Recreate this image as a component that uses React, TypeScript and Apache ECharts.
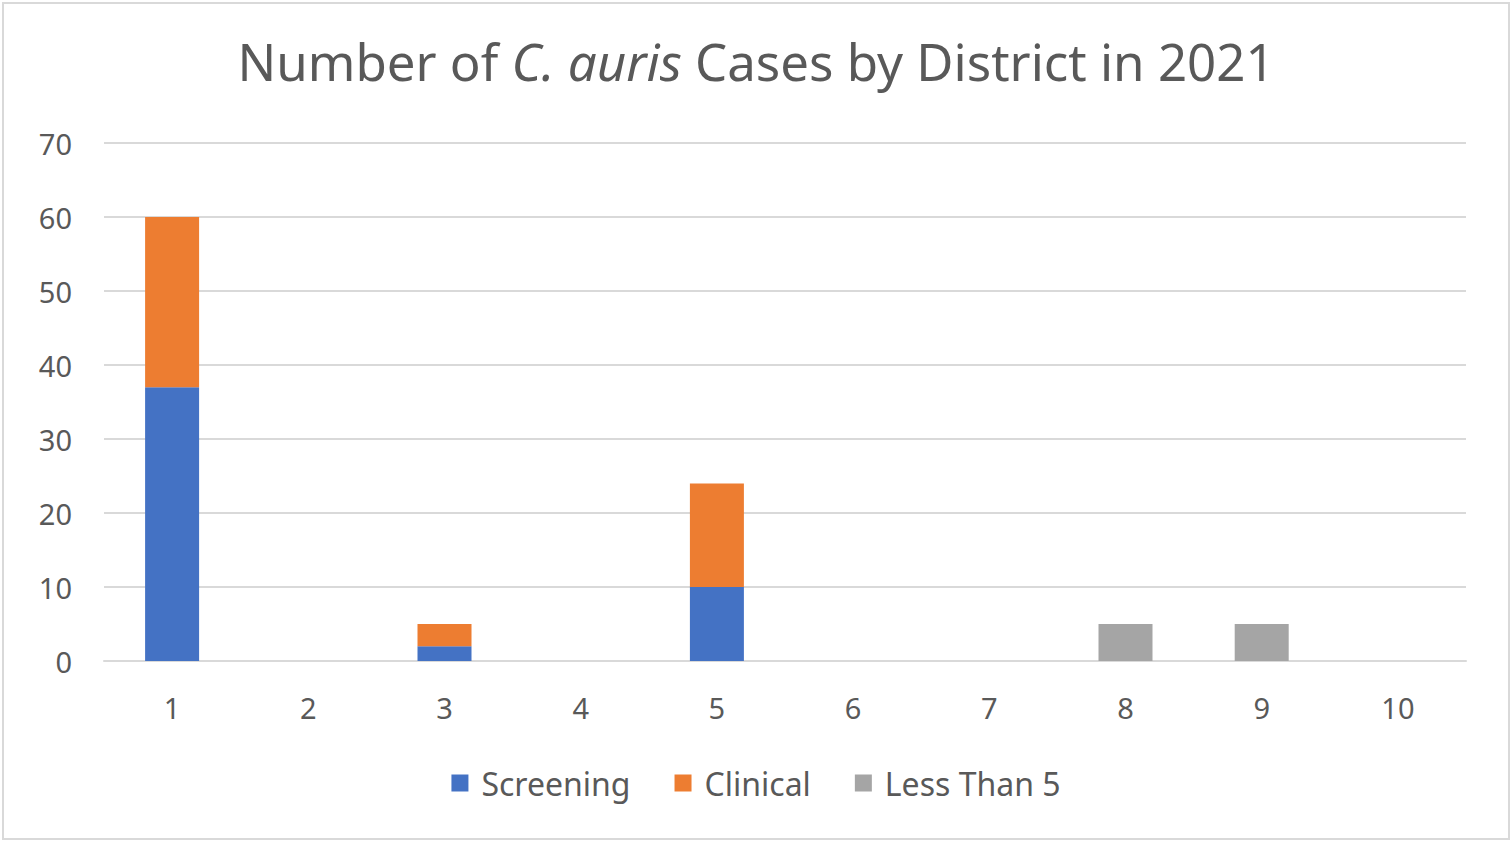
import React, { useEffect, useRef } from "react";
import * as echarts from "echarts";

const districts = ["1", "2", "3", "4", "5", "6", "7", "8", "9", "10"];
const screening = [37, 0, 2, 0, 10, 0, 0, 0, 0, 0];
const clinical = [23, 0, 3, 0, 14, 0, 0, 0, 0, 0];
const lessThan5 = [0, 0, 0, 0, 0, 0, 0, 5, 5, 0];

const FONT = "'Noto Sans', 'Open Sans', sans-serif";
const TEXT = "#595959";

export default function App() {
  const ref = useRef<HTMLDivElement>(null);
  useEffect(() => {
    document.body.style.margin = "0";
    const chart = echarts.init(ref.current!, null, { renderer: "svg" });
    chart.setOption({
      animation: false,
      backgroundColor: "#ffffff",
      title: {
        text: "Number of {i|C. auris} Cases by District in 2021",
        left: "center",
        top: 26,
        textStyle: {
          fontFamily: FONT,
          fontSize: 51,
          fontWeight: "normal",
          color: TEXT,
          rich: {
            i: { fontFamily: FONT, fontSize: 51, fontStyle: "italic", color: TEXT },
          },
        },
      },
      legend: {
        bottom: 34,
        left: "center",
        itemWidth: 17,
        itemHeight: 17,
        itemGap: 44,
        icon: "rect",
        textStyle: { fontFamily: FONT, fontSize: 32, color: TEXT, padding: [0, 0, 0, 8] },
        data: ["Screening", "Clinical", "Less Than 5"],
      },
      grid: { left: 100, right: 42, top: 139, bottom: 177, containLabel: false },
      xAxis: {
        type: "category",
        data: districts,
        axisLine: { lineStyle: { color: "#d9d9d9", width: 2 } },
        axisTick: { show: false },
        axisLabel: { fontFamily: FONT, fontSize: 29, color: TEXT, margin: 32 },
      },
      yAxis: {
        type: "value",
        min: 0,
        max: 70,
        interval: 10,
        axisLine: { show: false },
        axisTick: { show: false },
        splitLine: { lineStyle: { color: "#d9d9d9", width: 2 } },
        axisLabel: { fontFamily: FONT, fontSize: 29, color: TEXT, margin: 32 },
      },
      series: [
        { name: "Screening", type: "bar", stack: "t", data: screening, barWidth: 54, itemStyle: { color: "#4472C4" } },
        { name: "Clinical", type: "bar", stack: "t", data: clinical, barWidth: 54, itemStyle: { color: "#ED7D31" } },
        { name: "Less Than 5", type: "bar", stack: "t", data: lessThan5, barWidth: 54, itemStyle: { color: "#A5A5A5" } },
      ],
    });
    return () => chart.dispose();
  }, []);
  return (
    <div style={{ position: "absolute", left: 0, top: 0, width: 1512, height: 843, background: "#fff" }}>
      <div ref={ref} style={{ position: "absolute", left: 2, top: 2, width: 1508, height: 838, boxSizing: "border-box", border: "2px solid #d9d9d9" }} />
    </div>
  );
}
